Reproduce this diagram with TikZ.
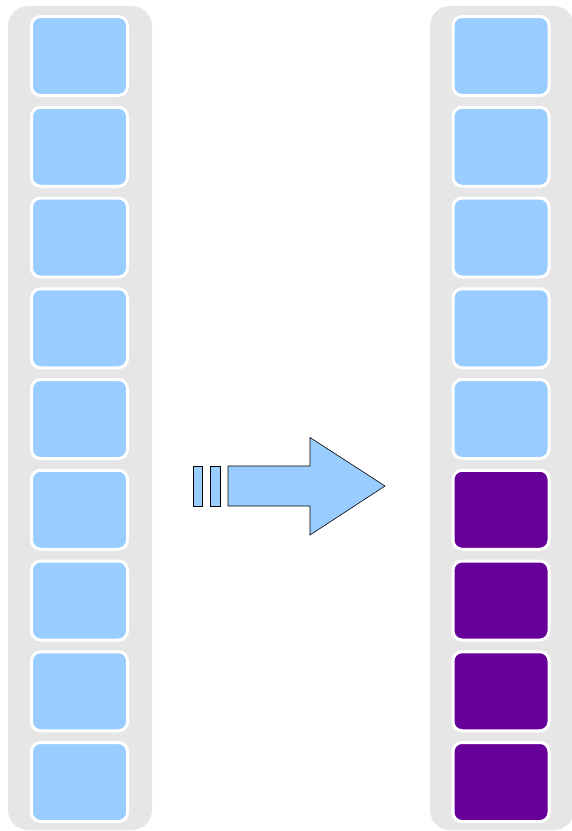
\documentclass[tikz,border=0pt]{standalone}
\usepackage{xcolor}
\usepackage{tikz}
\usetikzlibrary{positioning}

\definecolor{slotblue}{HTML}{99CCFF}
\definecolor{slotpurple}{HTML}{660099}
\definecolor{railgray}{HTML}{E6E6E6}

\begin{document}
\begin{tikzpicture}[
  x=1pt, y=-1pt,
  rail/.style={rectangle, rounded corners=20pt, fill=railgray, draw=none,
               minimum width=144pt, minimum height=824pt, inner sep=0pt},
  slot/.style={rectangle, rounded corners=9pt, draw=white, line width=3pt,
               minimum width=96pt, minimum height=79pt, inner sep=0pt},
  full/.style={slot, fill=slotblue},
  used/.style={slot, fill=slotpurple},
  movearrow/.style={fill=slotblue, draw=black, line width=0.6pt, line join=miter},
]
\useasboundingbox (0,0) rectangle (572,831);

% Background rails
\node[rail] (railL) at (80,418) {};
\node[rail] (railR) at (502,418) {};

% Left column: all slots free
\foreach \i in {1,...,9} {
  \node[full] (L\i) at (79.5,{56+90.75*(\i-1)}) {};
}

% Right column: five free, four taken
\foreach \i in {1,...,5} {
  \node[full] (R\i) at (501,{56+90.75*(\i-1)}) {};
}
\foreach \i in {6,...,9} {
  \node[used] (R\i) at (501,{56+90.75*(\i-1)}) {};
}

% Block arrow with two trailing bars
\draw[movearrow] (193,466) rectangle (202,506);
\draw[movearrow] (210.5,466) rectangle (220,506);
\draw[movearrow] (228,466) -- (310,466) -- (310,437.5) -- (385,486)
  -- (310,535) -- (310,506) -- (228,506) -- cycle;

\end{tikzpicture}
\end{document}
